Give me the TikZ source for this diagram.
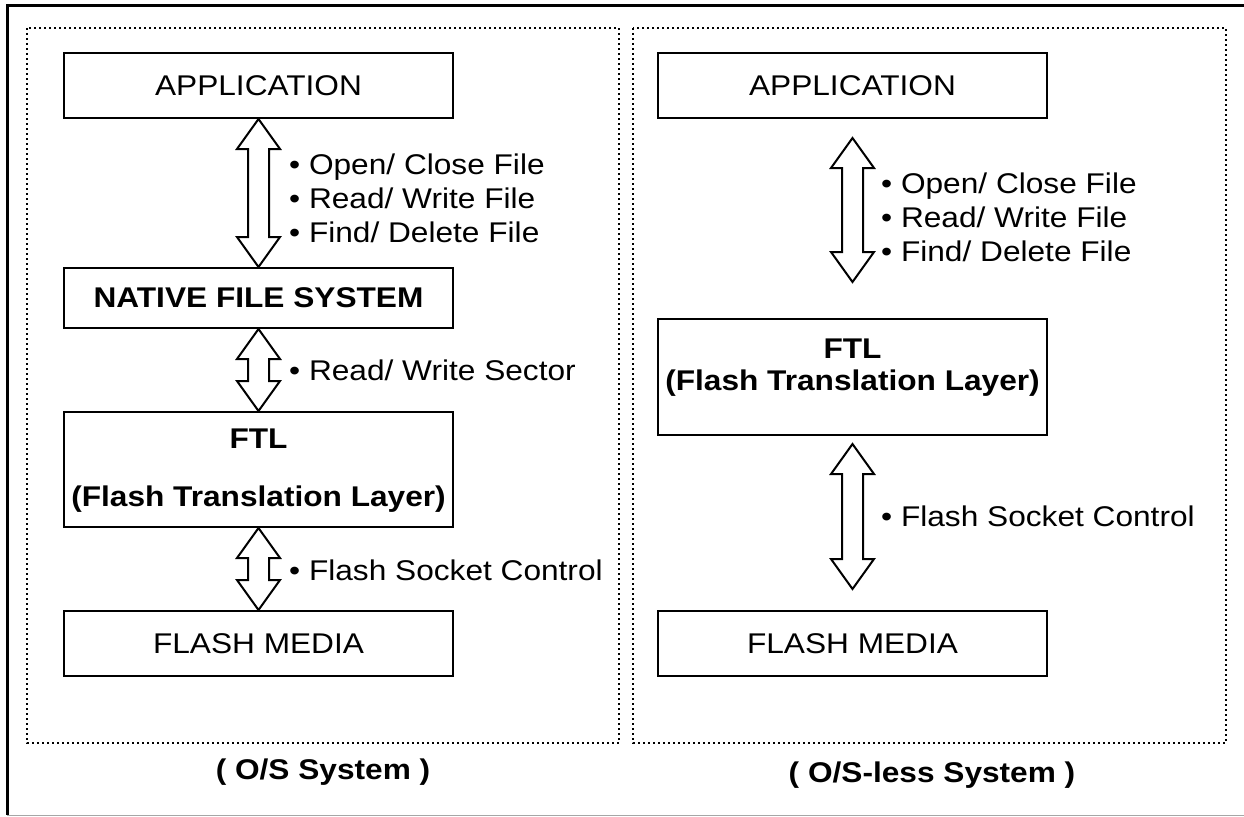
\documentclass[tikz,border=0pt]{standalone}
\usepackage{fontspec}
\setmainfont[FakeStretch=1.11]{Liberation Sans}
\usetikzlibrary{calc}

% hollow two-headed block arrow from tip #1 (top) to tip #2 (bottom)
\newcommand\layerarrow[2]{%
  \draw[blockarrow] (#1) -- ++(21.5,30) -- ++(-11,0)
    -- ($(#2)+(10.5,-30)$) -- ++(11,0) -- (#2) -- ++(-21.5,-30) -- ++(11,0)
    -- ($(#1)+(-10.5,30)$) -- ++(-11,0) -- cycle;}

\begin{document}
\begin{tikzpicture}[x=1pt,y=-1pt,
  txt/.style={font=\fontsize{28.5}{34}\selectfont, inner sep=0pt},
  boldtxt/.style={font=\fontsize{28.5}{34}\selectfont\bfseries, inner sep=0pt, align=center},
  layer/.style={draw, line width=2pt, minimum width=389pt, inner sep=0pt,
    font=\fontsize{28.5}{34}\selectfont},
  dotbox/.style={line width=2pt, dash pattern=on 2pt off 3pt},
  blockarrow/.style={draw, line width=2pt, fill=white, line join=miter},
  bullets/.style={txt, align=left, anchor=west}]
\useasboundingbox (0,0) rectangle (1244,816);

% outer frame (top and left edges, faint bottom edge) and the two dotted panels
\draw[line width=3pt] (1250,6) -- (7,6) -- (7,815);
\draw[black!35, line width=1.2pt] (7,815.4) -- (1250,815.4);
\draw[dotbox] (27,28) rectangle (619,743);
\draw[dotbox] (633,28) rectangle (1226,743);

% ---- left panel: with operating system
\node[layer, minimum height=65pt] (app1) at (258.5,85.5) {APPLICATION};
\node[layer, minimum height=60pt, font=\fontsize{28.5}{34}\selectfont\bfseries] (nfs) at (258.5,298) {NATIVE FILE SYSTEM};
\node[layer, minimum height=115pt] (ftl1) at (258.5,469.5) {};
\node[boldtxt] (ftl1t) at ($(ftl1.center)+(0,1.5)$) {FTL\\[24pt](Flash Translation Layer)};
\node[layer, minimum height=65pt] (med1) at (258.5,643.5) {FLASH MEDIA};

\layerarrow{app1.south}{nfs.north}
\layerarrow{nfs.south}{ftl1.north}
\layerarrow{ftl1.south}{med1.north}

\node[bullets] (ops1) at (289,198) {\textbullet\ Open/ Close File\\\textbullet\ Read/ Write File\\\textbullet\ Find/ Delete File};
\node[bullets] (sec1) at (289,370) {\textbullet\ Read/ Write Sector};
\node[bullets] (sock1) at (289,570) {\textbullet\ Flash Socket Control};

\node[boldtxt] (cap1) at (323,772) {( O/S System )};

% ---- right panel: without operating system
\node[layer, minimum height=65pt] (app2) at (852.5,85.5) {APPLICATION};
\node[layer, minimum height=116pt] (ftl2) at (852.5,377) {};
\node[boldtxt] (ftl2t) at ($(ftl2.center)+(0,-9)$) {FTL\\[-2pt](Flash Translation Layer)};
\node[layer, minimum height=65pt] (med2) at (852.5,643.5) {FLASH MEDIA};

\coordinate (r1t) at ($(app2.south)+(0,19)$);
\coordinate (r1b) at ($(ftl2.north)+(0,-36)$);
\coordinate (r2t) at ($(ftl2.south)+(0,8)$);
\coordinate (r2b) at ($(med2.north)+(0,-21)$);
\layerarrow{r1t}{r1b}
\layerarrow{r2t}{r2b}

\node[bullets] (ops2) at (881,217) {\textbullet\ Open/ Close File\\\textbullet\ Read/ Write File\\\textbullet\ Find/ Delete File};
\node[bullets] (sock2) at (881,516) {\textbullet\ Flash Socket Control};

\node[boldtxt] (cap2) at (932,775) {( O/S-less System )};
\end{tikzpicture}
\end{document}
